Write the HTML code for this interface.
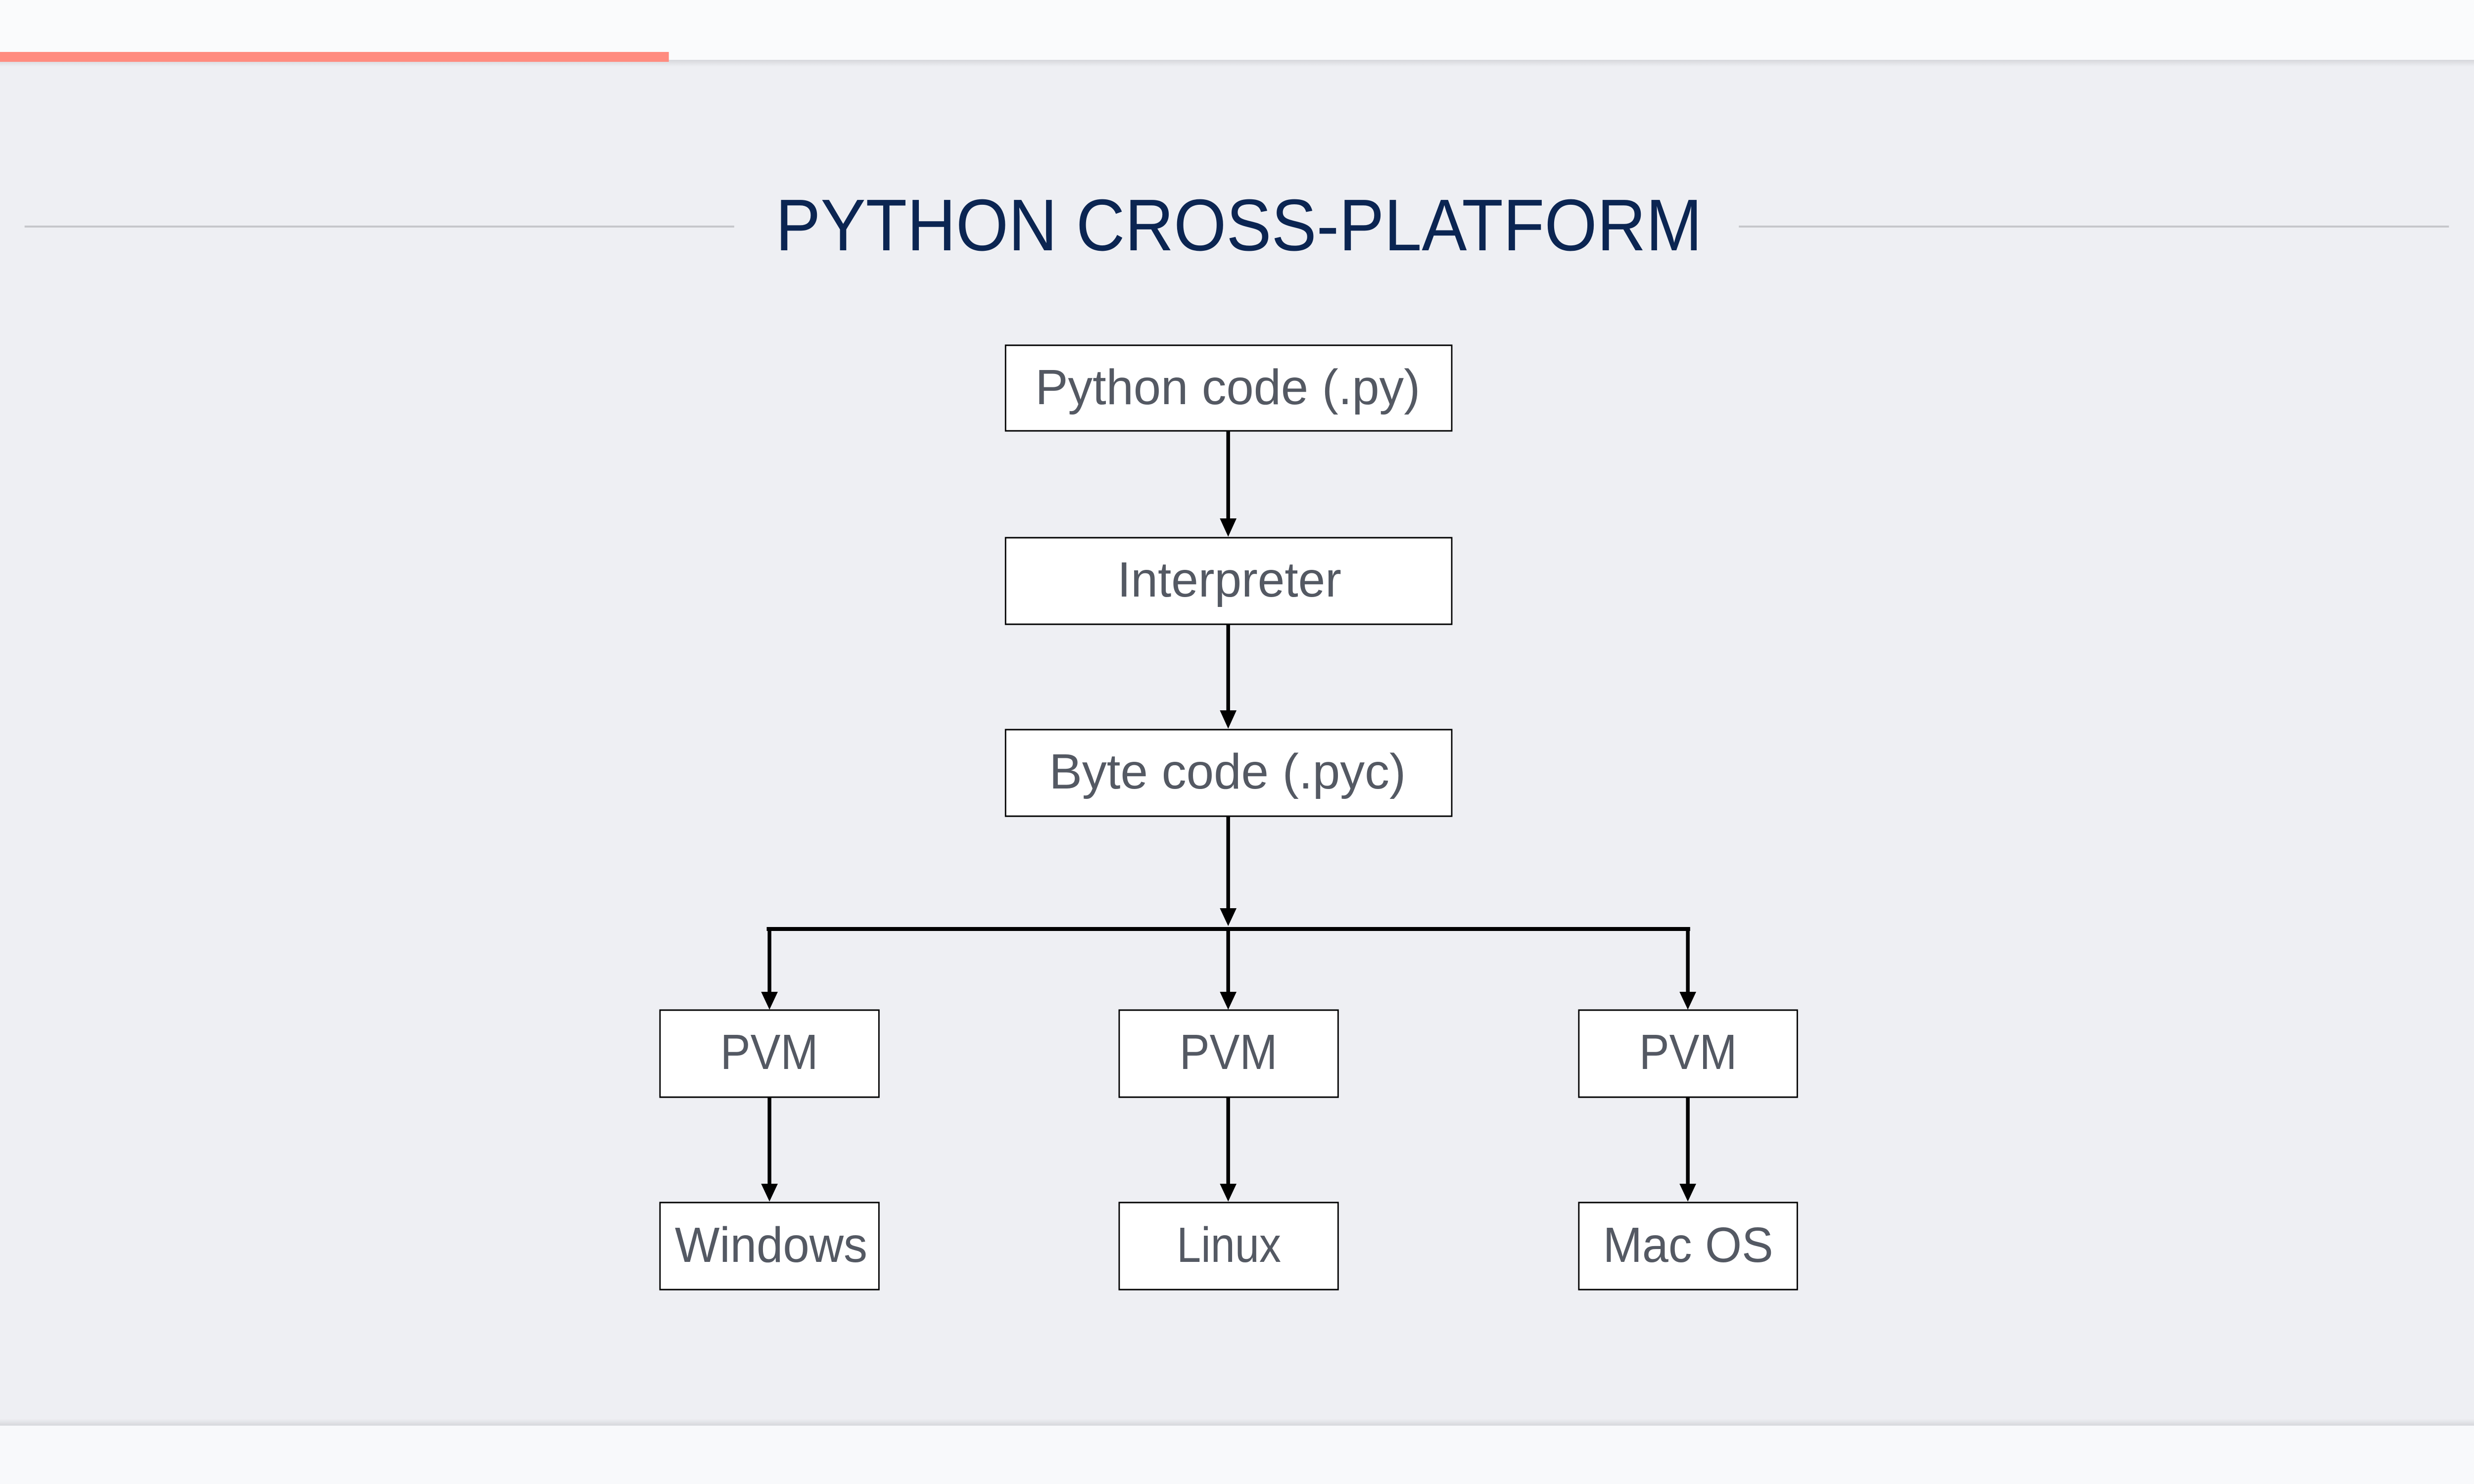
<!DOCTYPE html>
<html><head><meta charset="utf-8"><style>
html,body{margin:0;padding:0;width:100%;height:100%;overflow:hidden;background:#eeeff3}
svg{display:block;position:fixed;left:0;top:0;width:100vw;height:100vh}
</style></head><body>
<svg viewBox="0 0 5334 3000" preserveAspectRatio="none" xmlns="http://www.w3.org/2000/svg">
<defs>
<linearGradient id="sh" x1="0" y1="0" x2="0" y2="1"><stop offset="0" stop-color="#d6d7db"/><stop offset="1" stop-color="#eeeff3"/></linearGradient>
<linearGradient id="sh2" x1="0" y1="1" x2="0" y2="0"><stop offset="0" stop-color="#d6d7db"/><stop offset="1" stop-color="#eeeff3"/></linearGradient>
</defs>
<rect x="0" y="0" width="5334" height="3000" fill="#eeeff3"/>
<rect x="0" y="0" width="5334" height="121" fill="#fafbfc"/>
<rect x="0" y="121" width="5334" height="14" fill="url(#sh)"/>
<rect x="0" y="105" width="1442" height="20" fill="#ff8c80"/>
<rect x="0" y="2868" width="5334" height="14" fill="url(#sh2)"/>
<rect x="0" y="2882" width="5334" height="118" fill="#f8f9fb"/>
<rect x="53" y="456" width="1530" height="4" fill="#c6c7cb"/>
<rect x="3749" y="456" width="1531" height="4" fill="#c6c7cb"/>
<text x="1672" y="506" font-family="Liberation Sans, sans-serif" font-size="148" fill="#0b2552" textLength="1998" lengthAdjust="spacingAndGlyphs">PYTHON CROSS-PLATFORM</text>

<g stroke="#000" stroke-width="8" fill="none">
<line x1="2648" y1="871" x2="2648" y2="1050"/>
<line x1="2648" y1="1262" x2="2648" y2="1438"/>
<line x1="2648" y1="1650" x2="2648" y2="1840"/>
<line x1="1653" y1="1878" x2="3644" y2="1878"/>
<line x1="1659" y1="1878" x2="1659" y2="2006"/>
<line x1="2648" y1="1878" x2="2648" y2="2006"/>
<line x1="3639" y1="1878" x2="3639" y2="2006"/>
<line x1="1659" y1="2218" x2="1659" y2="2394"/>
<line x1="2648" y1="2218" x2="2648" y2="2394"/>
<line x1="3639" y1="2218" x2="3639" y2="2394"/>
</g>
<g fill="#000">
<polygon points="2630,1048 2666,1048 2648,1085"/>
<polygon points="2630,1436 2666,1436 2648,1473"/>
<polygon points="2630,1836 2666,1836 2648,1872"/>
<polygon points="1641,2005 1677,2005 1659,2041"/>
<polygon points="2630,2005 2666,2005 2648,2041"/>
<polygon points="3621,2005 3657,2005 3639,2041"/>
<polygon points="1641,2393 1677,2393 1659,2429"/>
<polygon points="2630,2393 2666,2393 2648,2429"/>
<polygon points="3621,2393 3657,2393 3639,2429"/>
</g>
<g fill="#fff" stroke="#000" stroke-width="3">
<rect x="2168" y="698" width="962" height="173"/>
<rect x="2168" y="1087" width="962" height="175"/>
<rect x="2168" y="1475" width="962" height="175"/>
<rect x="1423" y="2042" width="472" height="176"/>
<rect x="2413" y="2042" width="472" height="176"/>
<rect x="3404" y="2042" width="471" height="176"/>
<rect x="1423" y="2431" width="472" height="176"/>
<rect x="2413" y="2431" width="472" height="176"/>
<rect x="3404" y="2431" width="471" height="176"/>
</g>
<g font-family="Liberation Sans, sans-serif" font-size="100" fill="#545963">
<text x="2232" y="817" textLength="830" lengthAdjust="spacingAndGlyphs">Python code (.py)</text>
<text x="2409" y="1206" textLength="483" lengthAdjust="spacingAndGlyphs">Interpreter</text>
<text x="2262" y="1594" textLength="769" lengthAdjust="spacingAndGlyphs">Byte code (.pyc)</text>
<text x="1553" y="2161" textLength="211" lengthAdjust="spacingAndGlyphs">PVM</text>
<text x="2543" y="2161" textLength="211" lengthAdjust="spacingAndGlyphs">PVM</text>
<text x="3534" y="2161" textLength="211" lengthAdjust="spacingAndGlyphs">PVM</text>
<text x="1455" y="2551" textLength="415" lengthAdjust="spacingAndGlyphs">Windows</text>
<text x="2537" y="2551" textLength="225" lengthAdjust="spacingAndGlyphs">Linux</text>
<text x="3456" y="2551" textLength="367" lengthAdjust="spacingAndGlyphs">Mac OS</text>
</g>
</svg>
</body></html>
